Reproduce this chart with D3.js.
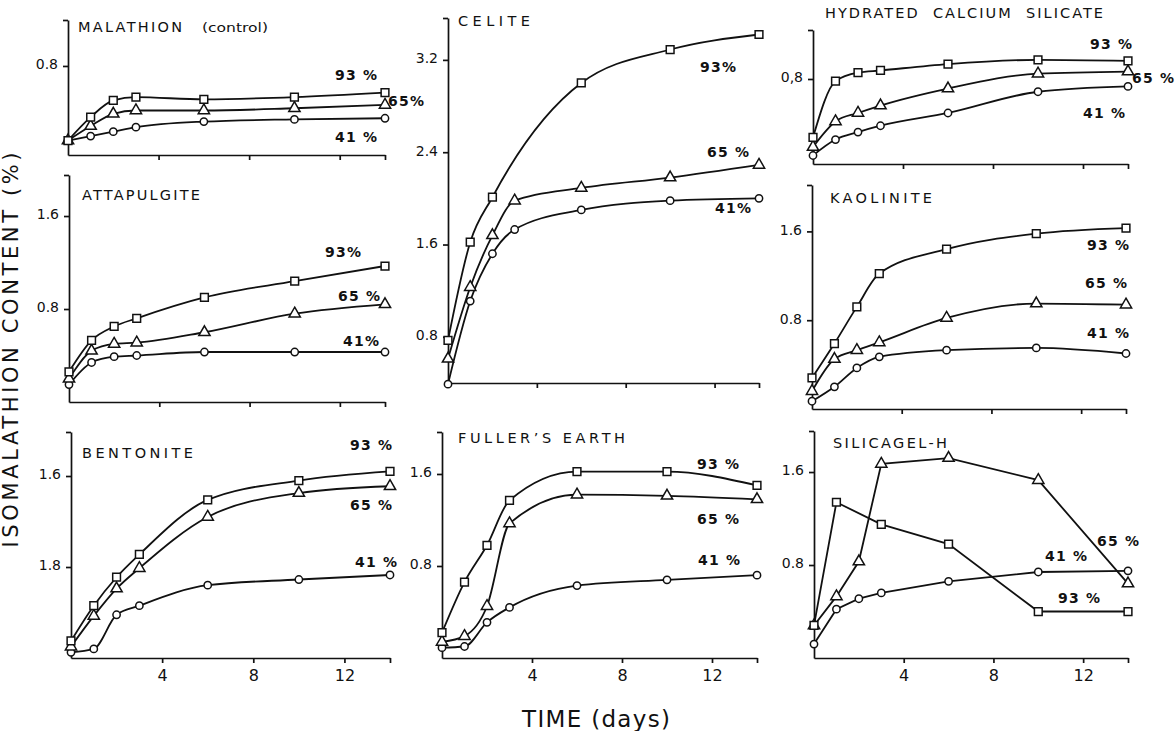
<!DOCTYPE html>
<html>
<head>
<meta charset="utf-8">
<script src="https://cdn.jsdelivr.net/npm/d3@7"></script>
<style>
  body { margin: 0; background: #fff; }
  text { font-family: "DejaVu Sans", sans-serif; fill: #111; }
</style>
</head>
<body>
<div id="chart"></div>
<script>
// sampling days (x values shared by every panel)
const days = [0, 1, 2, 3, 6, 10, 14];

// isomalathion content (%), by relative humidity
const malathion93 = [0.13, 0.34, 0.49, 0.52, 0.50, 0.52, 0.56];
const malathion65 = [0.13, 0.26, 0.37, 0.40, 0.40, 0.42, 0.45];
const malathion41 = [0.13, 0.17, 0.21, 0.25, 0.30, 0.32, 0.33];

const attapulgite93 = [0.26, 0.53, 0.65, 0.72, 0.90, 1.04, 1.17];
const attapulgite65 = [0.20, 0.44, 0.50, 0.51, 0.60, 0.76, 0.84];
const attapulgite41 = [0.15, 0.34, 0.39, 0.40, 0.43, 0.43, 0.43];

const bentonite93 = [0.15, 0.46, 0.71, 0.91, 1.39, 1.56, 1.64];
const bentonite65 = [0.10, 0.37, 0.61, 0.79, 1.24, 1.45, 1.51];
const bentonite41 = [0.05, 0.08, 0.38, 0.46, 0.64, 0.69, 0.73];

const celite93 = [0.77, 1.62, 2.01, null, 3.00, 3.29, 3.42];
const celite65 = [0.61, 1.23, 1.68, 1.98, 2.09, 2.18, 2.29];
const celite41 = [0.39, 1.11, 1.52, 1.73, 1.90, 1.98, 2.00];

const fullers93 = [0.22, 0.66, 0.98, 1.37, 1.62, 1.62, 1.50];
const fullers65 = [0.14, 0.19, 0.45, 1.17, 1.42, 1.41, 1.38];
const fullers41 = [0.09, 0.10, 0.31, 0.44, 0.63, 0.68, 0.72];

const silicate93 = [0.25, 0.78, 0.86, 0.88, 0.94, 0.98, 0.97];
const silicate65 = [0.16, 0.40, 0.48, 0.55, 0.71, 0.85, 0.87];
const silicate41 = [0.08, 0.23, 0.30, 0.36, 0.48, 0.68, 0.73];

const kaolinite93 = [0.28, 0.59, 0.92, 1.22, 1.44, 1.58, 1.63];
const kaolinite65 = [0.16, 0.45, 0.53, 0.60, 0.82, 0.95, 0.94];
const kaolinite41 = [0.07, 0.20, 0.37, 0.47, 0.53, 0.55, 0.50];

const silicagel93 = [0.28, 1.34, null, 1.15, 0.98, 0.40, 0.40];
const silicagel65 = [0.28, 0.53, 0.83, 1.67, 1.72, 1.53, 0.64];
const silicagel41 = [0.12, 0.42, 0.51, 0.56, 0.66, 0.74, 0.75];

const xTicks = [4, 8, 12];
const humidityLabels = ['93 %', '65 %', '41 %'];

// panel layout (pixels) + axis domains
const panels = [
  { title: 'MALATHION', sub: '(control)', tx: 78, ty: 32, tw: 104,
    series: [malathion93, malathion65, malathion41], names: ['93 %', '65%', '41 %'],
    lab: [[335, 80], [388, 106], [335, 142]],
    x0: 68, x1: 385, bottom: 155, top: 20, yMin: 0, yMax: 1.213,
    yTicks: [0.8], yLabels: ['0.8'], xLabels: false },
  { title: 'ATTAPULGITE', tx: 82, ty: 200, tw: 118,
    series: [attapulgite93, attapulgite65, attapulgite41], names: ['93%', '65 %', '41%'],
    lab: [[325, 257], [338, 301], [343, 346]],
    x0: 69, x1: 385, bottom: 402, top: 175, yMin: 0, yMax: 1.953,
    yTicks: [0.8, 1.6], yLabels: ['0.8', '1.6'], xLabels: false },
  { title: 'BENTONITE', tx: 82, ty: 458, tw: 111,
    series: [bentonite93, bentonite65, bentonite41], names: humidityLabels,
    lab: [[350, 450], [350, 510], [355, 567]],
    x0: 71, x1: 390, bottom: 658, top: 432, yMin: 0, yMax: 1.987,
    yTicks: [0.8, 1.6], yLabels: ['1.8', '1.6'], xLabels: true },
  { title: 'CELITE', tx: 458, ty: 26, tw: 72,
    series: [celite93, celite65, celite41], names: ['93%', '65 %', '41%'],
    lab: [[700, 72], [707, 157], [715, 213]],
    x0: 448, x1: 759, bottom: 383, top: 18, yMin: 0.4, yMax: 3.563,
    yTicks: [0.8, 1.6, 2.4, 3.2], yLabels: ['0.8', '1.6', '2.4', '3.2'], xLabels: false },
  { title: 'FULLER\u2019S EARTH', tx: 458, ty: 443, tw: 167,
    series: [fullers93, fullers65, fullers41], names: humidityLabels,
    lab: [[697, 469], [697, 524], [698, 565]],
    x0: 442, x1: 757, bottom: 658, top: 432, yMin: 0, yMax: 1.965,
    yTicks: [0.8, 1.6], yLabels: ['0.8', '1.6'], xLabels: true },
  { title: 'HYDRATED  CALCIUM  SILICATE', tx: 825, ty: 18, tw: 278,
    series: [silicate93, silicate65, silicate41], names: humidityLabels,
    lab: [[1090, 49], [1132, 83], [1083, 118]],
    x0: 813, x1: 1128, bottom: 164, top: 30, yMin: 0, yMax: 1.261,
    yTicks: [0.8], yLabels: ['0,8'], xLabels: false },
  { title: 'KAOLINITE', tx: 830, ty: 203, tw: 102,
    series: [kaolinite93, kaolinite65, kaolinite41], names: humidityLabels,
    lab: [[1087, 250], [1085, 288], [1087, 338]],
    x0: 812, x1: 1126, bottom: 409, top: 185, yMin: 0, yMax: 2.018,
    yTicks: [0.8, 1.6], yLabels: ['0.8', '1.6'], xLabels: false },
  { title: 'SILICAGEL-H', tx: 833, ty: 448, tw: 114, straight: true,
    series: [silicagel93, silicagel65, silicagel41], names: humidityLabels,
    lab: [[1058, 603], [1097, 546], [1045, 561]],
    x0: 814, x1: 1128, bottom: 658, top: 431, yMin: 0, yMax: 1.953,
    yTicks: [0.8, 1.6], yLabels: ['0.8', '1.6'], xLabels: true }
];

const shapes = [d3.symbolSquare, d3.symbolTriangle, d3.symbolCircle];
const shapeSizes = [60, 55, 42];

const svg = d3.select('#chart')
  .append('svg')
  .attr('width', 1175)
  .attr('height', 731);

panels.forEach(p => {
  const g = svg.append('g');

  const x = d3.scaleLinear().domain([0, 14]).range([p.x0, p.x1]);
  const y = d3.scaleLinear().domain([p.yMin, p.yMax]).range([p.bottom, p.top]);

  // axes: top of the y axis and the day-14 end get a bare tick
  const yAxis = g.append('g')
    .attr('transform', `translate(${p.x0},0)`)
    .call(d3.axisLeft(y)
      .tickValues(p.yTicks.concat([p.yMax]))
      .tickSize(5).tickSizeOuter(0).tickPadding(5)
      .tickFormat((d, i) => p.yLabels[i] || ''));

  const xAxis = g.append('g')
    .attr('transform', `translate(0,${p.bottom})`)
    .call(d3.axisBottom(x)
      .tickValues(xTicks.concat([14]))
      .tickSize(5).tickSizeOuter(0).tickPadding(7)
      .tickFormat(d => (p.xLabels && d < 14) ? d : ''));

  [yAxis, xAxis].forEach(a => {
    a.attr('font-family', null).attr('font-size', null);
    a.selectAll('path, line').attr('stroke', '#111').attr('stroke-width', 1.7);
  });
  yAxis.selectAll('text').style('font-size', '14px').attr('dy', '0.2em');
  xAxis.selectAll('text').style('font-size', '16px');

  // panel title
  g.append('text')
    .attr('x', p.tx)
    .attr('y', p.ty)
    .style('font-size', '14.5px')
    .attr('textLength', p.tw)
    .attr('lengthAdjust', 'spacing')
    .style('white-space', 'pre')
    .text(p.title);
  if (p.sub) {
    g.append('text')
      .attr('x', p.tx + p.tw + 20)
      .attr('y', p.ty)
      .style('font-size', '13px')
      .attr('textLength', 66)
      .attr('lengthAdjust', 'spacingAndGlyphs')
      .text(p.sub);
  }

  const line = d3.line()
    .x(d => x(d.day))
    .y(d => y(d.v))
    .curve(p.straight ? d3.curveLinear : d3.curveMonotoneX);

  // draw 41 % first so squares sit on top
  [2, 1, 0].forEach(k => {
    const pts = days.map((day, i) => ({ day: day, v: p.series[k][i] }))
      .filter(d => d.v !== null);

    g.append('path')
      .datum(pts)
      .attr('fill', 'none')
      .attr('stroke', '#111')
      .attr('stroke-width', 1.8)
      .attr('d', line);

    g.selectAll(null)
      .data(pts)
      .enter().append('path')
      .attr('transform', d => `translate(${x(d.day)},${y(d.v)})`)
      .attr('d', d3.symbol().type(shapes[k]).size(shapeSizes[k]))
      .attr('fill', '#fff')
      .attr('stroke', '#111')
      .attr('stroke-width', 1.5);

    g.append('text')
      .attr('x', p.lab[k][0])
      .attr('y', p.lab[k][1])
      .style('font-size', '14px')
      .style('font-weight', 'bold')
      .style('letter-spacing', '1.2px')
      .style('white-space', 'pre')
      .text(p.names[k]);
  });
});

// shared axis titles
svg.append('text')
  .attr('transform', 'translate(18,350) rotate(-90)')
  .attr('text-anchor', 'middle')
  .style('font-size', '21px')
  .attr('textLength', 395)
  .attr('lengthAdjust', 'spacing')
  .text('ISOMALATHION CONTENT (%)');

svg.append('text')
  .attr('x', 522)
  .attr('y', 727)
  .style('font-size', '23px')
  .attr('textLength', 148)
  .attr('lengthAdjust', 'spacing')
  .text('TIME (days)');
</script>
</body>
</html>
